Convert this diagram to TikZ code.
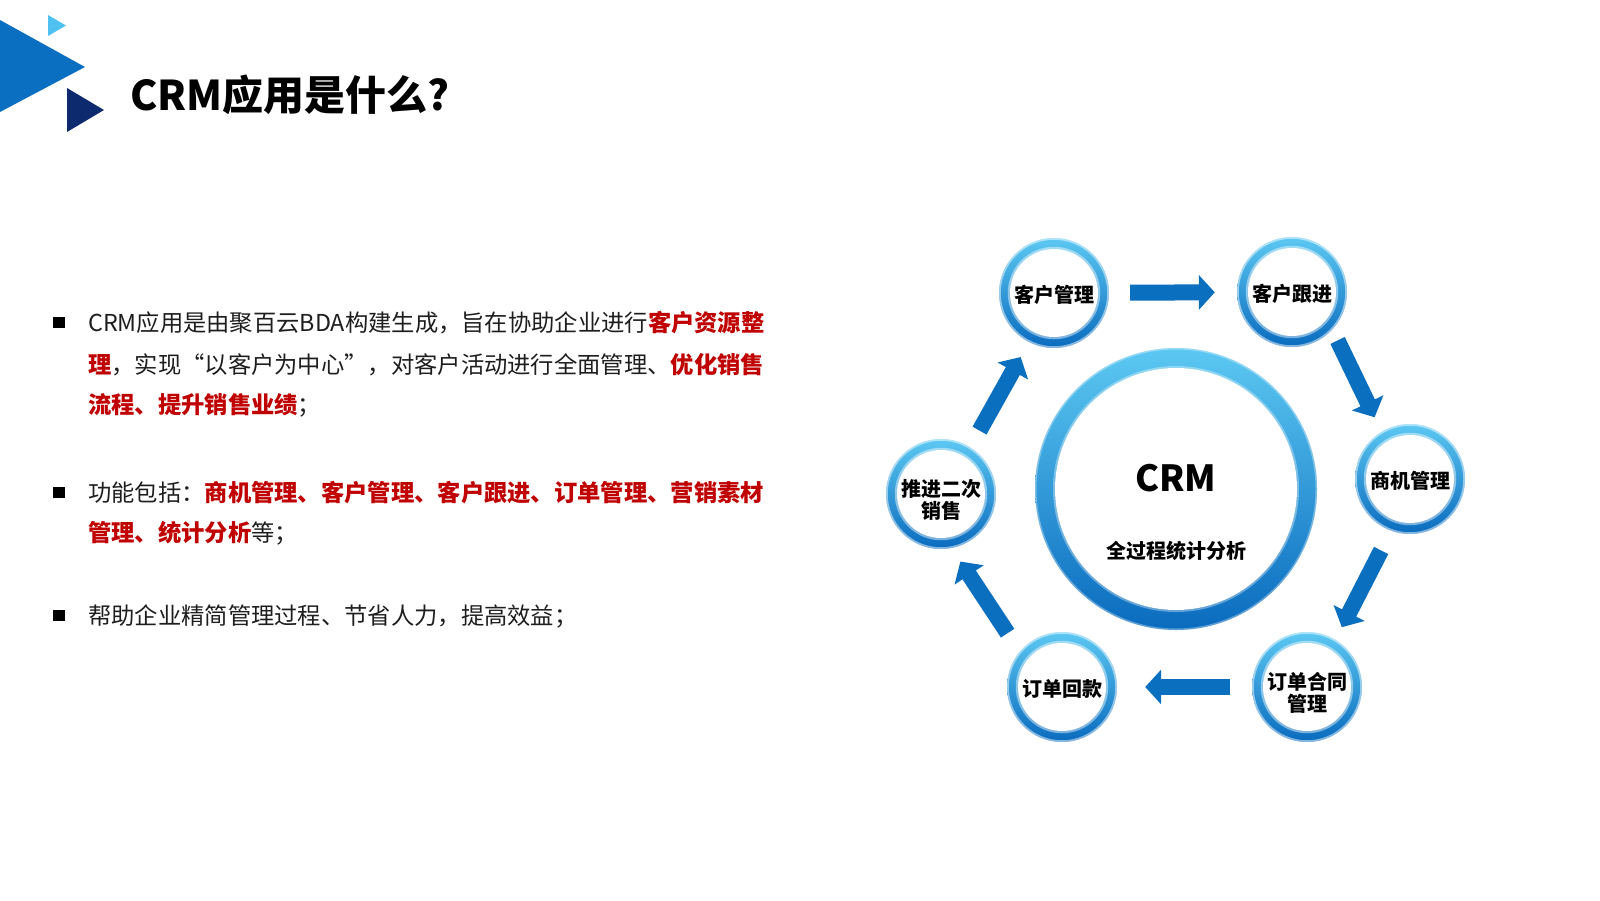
\documentclass[tikz,border=0pt]{standalone}
\usepackage{fontspec}
\setmainfont{Noto Sans CJK SC}
\usetikzlibrary{arrows.meta,shapes.geometric}
\definecolor{ringlight}{HTML}{5CC8F2}
\definecolor{ringdark}{HTML}{0A6BBE}
\definecolor{arrowblue}{HTML}{0B6FC0}
\definecolor{crmred}{HTML}{C00000}
\definecolor{trilight}{HTML}{4FC1F0}
\definecolor{trimid}{HTML}{0B6FC1}
\definecolor{tridark}{HTML}{0E2A6E}
\definecolor{bodytext}{HTML}{1E1E1E}
\newcommand\redb[1]{\textcolor{crmred}{\bfseries #1}}
\begin{document}
\begin{tikzpicture}[x=1pt,y=-1pt,
  smallring/.style={circle, minimum size=110pt, inner sep=0pt,
    top color=ringlight, bottom color=ringdark,
    path picture={
      \fill[white] (path picture bounding box.center) circle (44pt);
      \draw[white, opacity=0.45, line width=2.5pt] (path picture bounding box.center) circle (45pt);
      \draw[white, opacity=0.5, line width=2.5pt] (path picture bounding box.center) circle (54.5pt);
    }},
  ringtext/.style={inner sep=0pt, align=center, text=black,
    font=\fontsize{20}{22.5}\selectfont\bfseries},
  bigring/.style={circle, minimum size=282pt, inner sep=0pt,
    top color=ringlight, bottom color=ringdark,
    path picture={
      \fill[white] (path picture bounding box.center) circle (121pt);
      \draw[white, opacity=0.35, line width=2pt] (path picture bounding box.center) circle (122pt);
      \draw[white, opacity=0.35, line width=2pt] (path picture bounding box.center) circle (140.5pt);
    }},
  blockarrow/.style={draw=arrowblue, line width=16pt, -{Triangle[width=34pt,length=16pt]}},
  bodyline/.style={anchor=base west, inner sep=0pt, text=bodytext,
    font=\fontsize{23.3}{28}\selectfont},
  bulletsq/.style={fill=black, minimum width=12pt, minimum height=11pt, inner sep=0pt}
]
\useasboundingbox (0,0) rectangle (1600,900);
\fill[white] (0,0) rectangle (1600,900);

% title decorations
\fill[trimid] (0,20) -- (85,67) -- (0,112) -- cycle;
\fill[trilight] (48,15) -- (66,25.5) -- (48,36) -- cycle;
\fill[tridark] (67,88) -- (104,110) -- (67,132) -- cycle;
\node[anchor=base west, inner sep=0pt, font=\fontsize{41}{48}\selectfont\bfseries] (title) at (130,110) {CRM应用是什么?};

% bullets and text
\node[bulletsq] (b1) at (59,322) {};
\node[bodyline] (l1) at (88,331) {CRM应用是由聚百云BDA构建生成，旨在协助企业进行\redb{客户资源整}};
\node[bodyline] (l2) at (88,373) {\redb{理}，实现“以客户为中心”，对客户活动进行全面管理、\redb{优化销售}};
\node[bodyline] (l3) at (88,413) {\redb{流程、提升销售业绩}；};

\node[bulletsq] (b2) at (59,492) {};
\node[bodyline] (l4) at (88,501) {功能包括：\redb{商机管理、客户管理、客户跟进、订单管理、营销素材}};
\node[bodyline] (l5) at (88,541) {\redb{管理、统计分析}等；};

\node[bulletsq] (b3) at (59,615) {};
\node[bodyline] (l6) at (88,624) {帮助企业精简管理过程、节省人力，提高效益；};

% central ring
\node[bigring] (crm) at (1176,489) {};
\node[font=\fontsize{36}{40}\selectfont\bfseries, inner sep=0pt] (crmt) at (1176,478) {CRM};
\node[font=\fontsize{20}{24}\selectfont\bfseries, inner sep=0pt] (crms) at (1176,551) {全过程统计分析};

% small rings
\node[smallring] (kh) at (1054,293) {};
\node[smallring] (kg) at (1292,292) {};
\node[smallring] (sj) at (1410,479) {};
\node[smallring] (ht) at (1307,687) {};
\node[smallring] (hk) at (1062,687) {};
\node[smallring] (tj) at (941,494) {};
\node[ringtext] (kht) at (1054,295) {客户管理};
\node[ringtext] (kgt) at (1292,294) {客户跟进};
\node[ringtext] (sjt) at (1410,481) {商机管理};
\node[ringtext] (htt) at (1307,693) {订单合同\\管理};
\node[ringtext] (hkt) at (1062,689) {订单回款};
\node[ringtext] (tjt) at (941,500) {推进二次\\销售};

% arrows
\draw[blockarrow, shorten <=21pt, shorten >=22pt] (kh) -- (kg);
\draw[blockarrow, shorten <=12pt, shorten >=16pt] (kg.-43) -- (sj.121);
\draw[blockarrow, shorten <=22pt, shorten >=14pt] (sj.-110) -- (ht.59);
\draw[blockarrow, shorten <=22pt, shorten >=28pt] (ht) -- (hk);
\draw[blockarrow, shorten <=22pt, shorten >=16pt] (hk.140) -- (tj.-79);
\draw[blockarrow, shorten <=19pt, shorten >=17pt] (tj.58) -- (kh.-117);
\end{tikzpicture}
\end{document}
